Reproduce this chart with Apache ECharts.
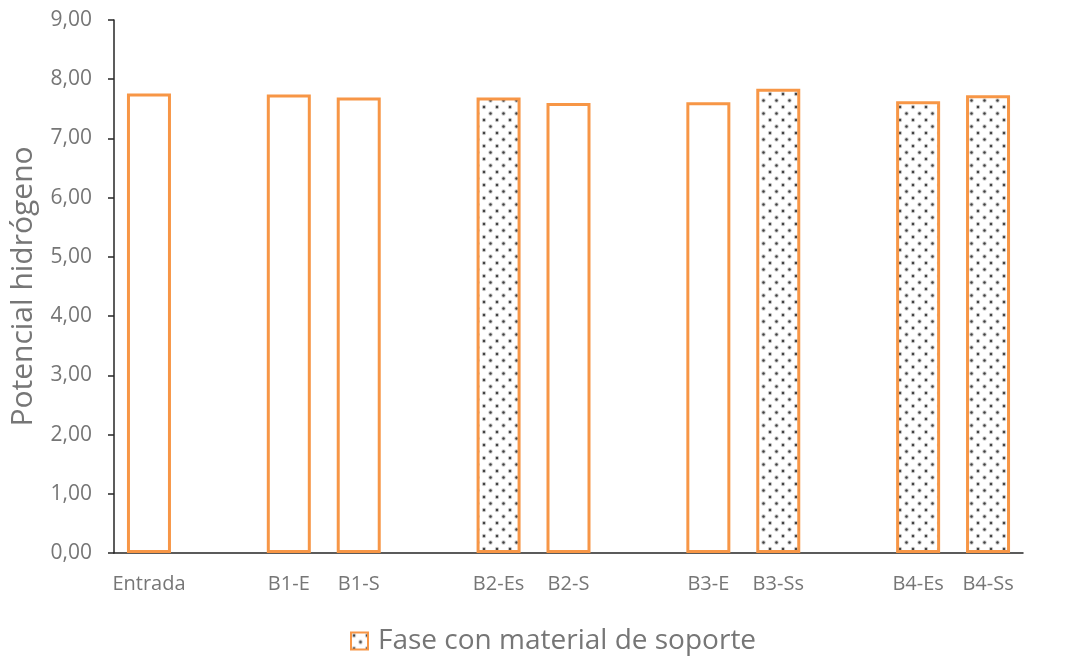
<!DOCTYPE html>
<html>
<head>
<meta charset="utf-8">
<script src="https://cdn.jsdelivr.net/npm/echarts@6/dist/echarts.min.js"></script>
<style>
  html, body { margin: 0; padding: 0; background: #ffffff; }
  #chart { width: 1083px; height: 656px; }
</style>
</head>
<body>
<div id="chart"></div>
<script>
// Sampling points; empty strings are spacer slots between the blocks
const categories = ['Entrada', '', 'B1-E', 'B1-S', '', 'B2-Es', 'B2-S', '', 'B3-E', 'B3-Ss', '', 'B4-Es', 'B4-Ss'];
// pH values (null = spacer)
const phValues = [7.76, null, 7.74, 7.69, null, 7.69, 7.60, null, 7.61, 7.84, null, 7.63, 7.73];
// true where the phase uses support material (dotted fill)
const withSupport = [false, false, false, false, false, true, false, false, false, true, false, true, true];
const yTicks = { min: 0, max: 9, interval: 1 };

const ORANGE = '#F79646';
const TEXT = '#767676';

// dotted fill tile (staggered dots)
function makeDots() {
  const c = document.createElement('canvas');
  c.width = 13; c.height = 13;
  const g = c.getContext('2d');
  g.fillStyle = '#ffffff';
  g.fillRect(0, 0, 13, 13);
  [[3, 3], [9.5, 9.5]].forEach(([x, y]) => {
    g.fillStyle = 'rgba(100,100,100,0.35)';
    g.beginPath(); g.arc(x, y, 2.2, 0, Math.PI * 2); g.fill();
    g.fillStyle = 'rgba(50,50,50,0.9)';
    g.beginPath(); g.arc(x, y, 1.2, 0, Math.PI * 2); g.fill();
  });
  return c;
}
const dotFill = { image: makeDots(), repeat: 'repeat' };

const barData = phValues.map((v, i) => ({
  value: v,
  itemStyle: withSupport[i] ? {} : { color: '#ffffff' }
}));

const chart = echarts.init(document.getElementById('chart'));
chart.setOption({
  animation: false,
  backgroundColor: '#ffffff',
  grid: { left: 113, right: 60, top: 20, bottom: 103 },
  legend: {
    top: 622,
    left: 345,
    itemWidth: 17,
    itemHeight: 17,
    icon: 'rect',
    textStyle: { fontFamily: 'Open Sans', fontSize: 28, color: TEXT, padding: [0, 0, 0, 5] },
    data: ['Fase con material de soporte']
  },
  xAxis: {
    type: 'category',
    data: categories,
    axisLine: { lineStyle: { color: '#262626', width: 1.5 } },
    axisTick: { show: false },
    axisLabel: { interval: 0, fontFamily: 'Open Sans', fontSize: 20, color: TEXT, margin: 21 }
  },
  yAxis: {
    type: 'value',
    min: yTicks.min, max: yTicks.max, interval: yTicks.interval,
    name: 'Potencial hidrógeno',
    nameLocation: 'middle',
    nameGap: 76,
    nameTextStyle: { fontFamily: 'Open Sans', fontSize: 30, color: TEXT },
    axisLine: { show: true, lineStyle: { color: '#262626', width: 1.5 } },
    axisTick: { show: true, length: 6, lineStyle: { color: '#262626', width: 1.5 } },
    splitLine: { show: false },
    axisLabel: {
      fontFamily: 'Open Sans', fontSize: 21, color: TEXT, margin: 22,
      formatter: v => v.toFixed(2).replace('.', ',')
    }
  },
  series: [{
    name: 'Fase con material de soporte',
    type: 'bar',
    barWidth: 44,
    data: barData,
    itemStyle: { color: dotFill, borderColor: ORANGE, borderWidth: 3 }
  }]
});
</script>
</body>
</html>
